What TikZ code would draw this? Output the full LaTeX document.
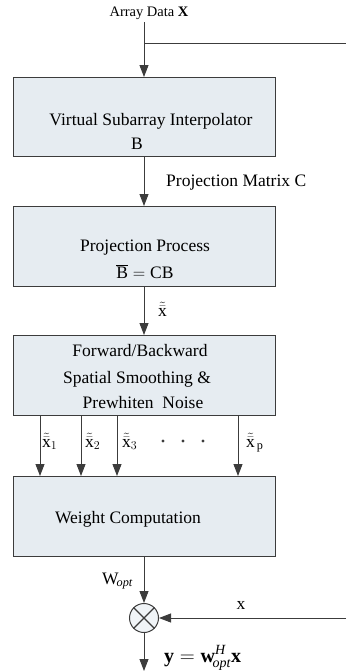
\documentclass[tikz,border=0pt]{standalone}
\usepackage{fontspec}
\setmainfont{Liberation Serif}
\setmathrm{Liberation Serif}
\setboldmathrm{Liberation Serif}[BoldFont={* Bold}]
\usetikzlibrary{arrows.meta}
\definecolor{boxfill}{RGB}{230,236,241}
\definecolor{edge}{RGB}{60,60,60}
\begin{document}
\begin{tikzpicture}[x=1pt,y=-1pt,
  blk/.style={draw=edge,line width=1pt,fill=boxfill},
  wire/.style={draw=edge,line width=0.9pt},
  arr/.style={wire,-{Triangle[length=12pt,width=9pt]}},
  txt/.style={inner sep=0pt,anchor=base,font=\fontsize{17.5}{20}\selectfont},
  lbl/.style={inner sep=0pt,anchor=base west,font=\fontsize{17.5}{20}\selectfont}]
\useasboundingbox (0,0) rectangle (346,672);
% boxes
\draw[blk] (13,77) rectangle (275,156);
\draw[blk] (13,206) rectangle (275,286);
\draw[blk] (13,335) rectangle (275,415);
\draw[blk] (13,476) rectangle (275,556);
\coordinate (b1t) at (144,77); \coordinate (b1b) at (144,156);
\coordinate (b2t) at (144,206); \coordinate (b2b) at (144,286);
\coordinate (b3t) at (144,335);
\coordinate (b4b) at (144,556);
% box texts
\node[txt] (t1a) at (151,125) {Virtual Subarray Interpolator};
\node[txt] (t1b) at (137,149) {B};
\node[txt] (t2a) at (145,251) {Projection Process};
\node[txt] (t2b) at (145,278) {$\overline{\mathrm{B}}=\mathrm{CB}$};
\node[txt] (t3a) at (140,356) {Forward/Backward};
\node[txt] (t3b) at (137,383) {Spatial Smoothing \&};
\node[txt] (t3c) at (143,408) {Prewhiten\ \ Noise};
\node[txt] (t4) at (128,523) {Weight Computation};
% input
\node[inner sep=0pt,anchor=base,font=\fontsize{14.5}{16}\selectfont] (in) at (149,16) {Array Data $\mathbf{X}$};
\coordinate (intop) at (144,22);
\coordinate (br) at (144,43);
\coordinate (brR) at (346,43);
\draw[arr] (intop) -- (b1t);
\draw[wire] (br) -- (brR);
\draw[arr] (b1b) -- (b2t);
\node[lbl] (pc) at (166,186) {Projection Matrix C};
\draw[arr] (b2b) -- (b3t);
\node[lbl] (xt) at (158,316) {$\tilde{\bar{\mathrm{x}}}$};
% four arrows
\foreach \n/\xx in {1/40,2/81,3/117,p/238}{
  \coordinate (s\n) at (\xx,415);
  \coordinate (e\n) at (\xx,476);
  \draw[arr] (s\n) -- (e\n);
}
\node[lbl] (l1) at (42,447) {$\tilde{\bar{\mathrm{x}}}_1$};
\node[lbl] (l2) at (85,447) {$\tilde{\bar{\mathrm{x}}}_2$};
\node[lbl] (l3) at (122,447) {$\tilde{\bar{\mathrm{x}}}_3$};
\node[lbl] (lp) at (246,447) {$\tilde{\bar{\mathrm{x}}}_{\,\mathrm{p}}$};
\foreach \i/\xx in {1/163,2/183,3/203}{
  \fill[edge] (\xx,441) circle (1.7pt) coordinate (dot\i);
}
% multiplier
\node[draw=edge,line width=1pt,fill=boxfill!60!white,circle,minimum size=29pt,inner sep=0pt] (mul) at (144,618) {};
\draw[edge,line width=1.1pt] (mul.45) -- (mul.225);
\draw[edge,line width=1.1pt] (mul.135) -- (mul.315);
\draw[arr] (b4b) -- (mul.north);
\node[inner sep=0pt,anchor=base east,font=\fontsize{17.5}{20}\selectfont] (w) at (133,584) {$\mathrm{W}_{\!\mathit{opt}}$};
\coordinate (xin) at (346,618);
\draw[arr] (xin) -- (mul.east);
\node[txt] (xl) at (241,609) {x};
\coordinate (out) at (144,671);
\draw[arr] (mul.south) -- (out);
\node[inner sep=0pt,font=\fontsize{20}{22}\selectfont,anchor=base west] (y) at (164,662) {$\mathbf{y}=\mathbf{w}_{\!\mathit{opt}}^{\mathit{H}}\mathbf{x}$};
\end{tikzpicture}
\end{document}
